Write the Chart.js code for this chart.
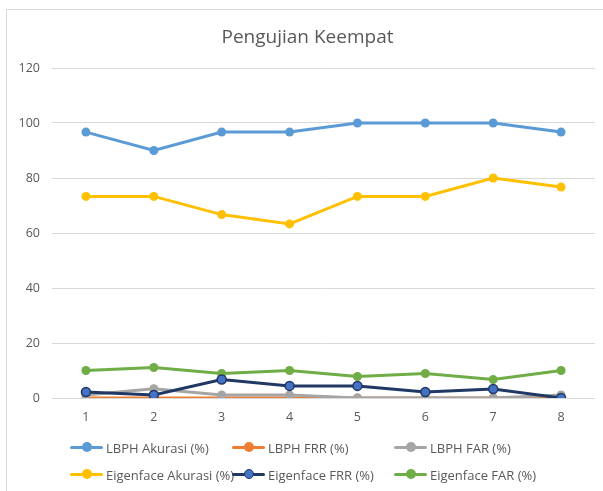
<!DOCTYPE html>
<html>
<head>
<meta charset="utf-8">
<script src="https://cdn.jsdelivr.net/npm/chart.js@4"></script>
<style>
  body { margin: 0; background: #fff; font-family: "Open Sans", sans-serif; }
  #wrap { position: relative; width: 603px; height: 491px; overflow: hidden; }
  #frame { position: absolute; left: 6px; top: 9px; width: 620px; height: 500px; border: 1px solid #d9d9d9; box-sizing: border-box; }
  #title { position: absolute; left: 6px; width: 603px; top: 23px; text-align: center; font-size: 19px; color: #595959; }
  canvas { position: absolute; left: 0; top: 0; }
  .leg { position: absolute; font-size: 13px; color: #595959; white-space: nowrap; line-height: 16px; }
  .leg i { position: absolute; left: -36px; top: 6px; width: 33px; height: 3px; border-radius: 2px; }
  .leg b { position: absolute; left: -24px; top: 2px; width: 10px; height: 10px; border-radius: 50%; box-sizing: border-box; }
</style>
</head>
<body>
<div id="wrap">
  <div id="frame"></div>
  <canvas id="chartCanvas" width="603" height="491"></canvas>
  <div id="title">Pengujian Keempat</div>
  <div id="legend"></div>
</div>
<script>
const categories = ['1', '2', '3', '4', '5', '6', '7', '8'];
const lbphAkurasi = [96.7, 90, 96.7, 96.7, 100, 100, 100, 96.7];
const lbphFRR = [0, 0, 0, 0, 0, 0, 0, 0];
const lbphFAR = [1.1, 3.4, 1.1, 1.1, 0, 0, 0, 1.1];
const eigenAkurasi = [73.3, 73.3, 66.7, 63.3, 73.3, 73.3, 80, 76.7];
const eigenFRR = [2.2, 1.1, 6.7, 4.4, 4.4, 2.2, 3.3, 0];
const eigenFAR = [10, 11.1, 8.9, 10, 7.8, 8.9, 6.7, 10];

const labels = ['LBPH Akurasi (%)', 'LBPH FRR (%)', 'LBPH FAR (%)',
                'Eigenface Akurasi (%)', 'Eigenface FRR (%)', 'Eigenface FAR (%)'];
const lineColors = ['#5B9BD5', '#ED7D31', '#A5A5A5', '#FFC000', '#203864', '#70AD47'];
const dotColors = ['#5B9BD5', '#ED7D31', '#A5A5A5', '#FFC000', '#4472C4', '#70AD47'];
const values = [lbphAkurasi, lbphFRR, lbphFAR, eigenAkurasi, eigenFRR, eigenFAR];

// draw order: last one on top, like excel
let datasets = values.map((v, i) => ({
    label: labels[i],
    data: v,
    borderColor: lineColors[i],
    backgroundColor: dotColors[i],
    pointBackgroundColor: dotColors[i],
    pointBorderColor: lineColors[i],
    pointBorderWidth: i == 4 ? 1.5 : 0,
    pointRadius: 4.5,
    borderWidth: 3,
    tension: 0,
    order: i == 4 ? 0 : 6 - i
}));

let font = { family: '"Open Sans", sans-serif', size: 12.5 };

new Chart('chartCanvas', {
    type: 'line',
    data: { labels: categories, datasets: datasets },
    options: {
        responsive: false,
        animation: false,
        layout: { padding: { left: 0, right: 8, top: 68, bottom: 63 } },
        plugins: { legend: { display: false }, title: { display: false }, tooltip: { enabled: false } },
        scales: {
            x: {
                offset: true,
                grid: { display: false },
                border: { display: false },
                ticks: { color: '#595959', font: font, padding: 4 },
                afterFit: s => { s.height = 30; }
            },
            y: {
                min: 0, max: 120,
                ticks: { stepSize: 20, color: '#595959', font: font, padding: 12 },
                grid: { color: '#d9d9d9', drawTicks: false },
                border: { display: false },
                afterFit: s => { s.width = 52; }
            }
        }
    }
});

// legend, 3 columns x 2 rows
const colX = [106, 268, 430];
const rowY = [440, 467];
let legendHtml = '';
labels.forEach((name, i) => {
    let x = colX[i % 3], y = rowY[Math.floor(i / 3)];
    let border = i == 4 ? 'border:1.5px solid ' + lineColors[i] + ';' : '';
    legendHtml += '<div class="leg" style="left:' + x + 'px;top:' + y + 'px">' +
        '<i style="background:' + lineColors[i] + '"></i>' +
        '<b style="background:' + dotColors[i] + ';' + border + '"></b>' + name + '</div>';
});
document.getElementById('legend').innerHTML = legendHtml;
</script>
</body>
</html>
